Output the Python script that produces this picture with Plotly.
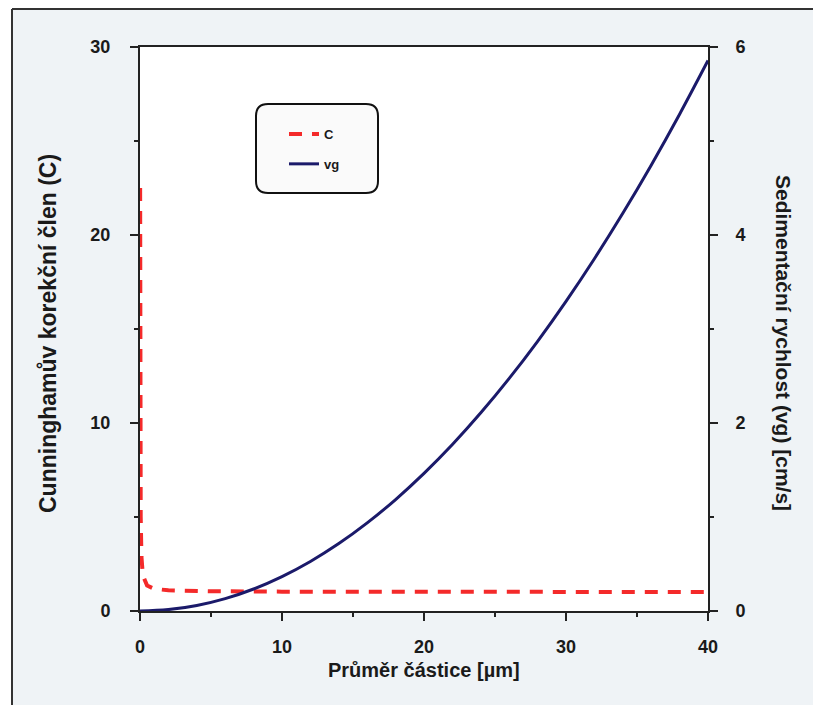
import plotly.graph_objects as go

# ---- data ----
d_c = [0.01, 0.02, 0.05, 0.1, 0.2, 0.5, 1, 2, 5, 10, 20, 30, 40]
c_vals = [22.5, 11.5, 5.0, 2.9, 1.9, 1.35, 1.18, 1.1, 1.05, 1.03, 1.02, 1.01, 1.01]

d_vg = [0, 2, 4, 6, 8, 10, 12, 14, 16, 18, 20, 22, 24, 26, 28, 30, 32, 34, 36, 38, 40]
vg_vals = [0, 0.015, 0.059, 0.132, 0.234, 0.366, 0.527, 0.717, 0.937, 1.186, 1.464,
           1.771, 2.108, 2.474, 2.869, 3.294, 3.748, 4.231, 4.743, 5.285, 5.856]

x_ticks = [0, 10, 20, 30, 40]
y1_ticks = [0, 10, 20, 30]
y2_ticks = [0, 2, 4, 6]

W, H = 813, 705
L, R, T, B = 140, 708, 47, 611

def px(x):
    return (x - L) / (R - L)

def py(y):
    return (B - y) / (B - T)

RED = "#f42a2a"
NAVY = "#1b1a6a"
FONT = "Liberation Sans, Arial, sans-serif"

fig = go.Figure()
fig.add_trace(go.Scatter(x=d_c, y=c_vals, name="C", mode="lines",
                         line=dict(color=RED, width=4, dash="13px,10px"),
                         legendgroup="a", yaxis="y"))
fig.add_trace(go.Scatter(x=d_vg, y=vg_vals, name="vg", mode="lines",
                         line=dict(color=NAVY, width=3, shape="spline"),
                         legendgroup="b", yaxis="y2"))

axis_common = dict(showgrid=False, zeroline=False, showline=True, linecolor="#222",
                   linewidth=2, ticks="outside", ticklen=8, tickwidth=2, tickcolor="#222",
                   tickfont=dict(family=FONT, size=18, color="#1a1a1a", weight="bold"))

fig.update_layout(
    width=W, height=H,
    margin=dict(l=L, r=W - R, t=T, b=H - B),
    paper_bgcolor="#eff3f6",
    plot_bgcolor="white",
    showlegend=True,
    xaxis=dict(range=[0, 40], tickvals=x_ticks, mirror=True,
               minor=dict(dtick=5, ticks="outside", ticklen=4, tickwidth=2, tickcolor="#222"),
               ticklabelstandoff=10, **axis_common),
    yaxis=dict(range=[0, 30], tickvals=y1_ticks,
               minor=dict(dtick=5, ticks="outside", ticklen=4, tickwidth=2, tickcolor="#222"),
               ticklabelstandoff=16, **axis_common),
    yaxis2=dict(range=[0, 6], tickvals=y2_ticks, overlaying="y", side="right",
                minor=dict(dtick=1, ticks="outside", ticklen=4, tickwidth=2, tickcolor="#222"),
                ticklabelstandoff=14, **axis_common),
    legend=dict(x=px(284), y=py(119), xanchor="left", yanchor="top",
                bgcolor="rgba(0,0,0,0)", borderwidth=0,
                font=dict(family=FONT, size=13, color="#1a1a1a", weight="bold"),
                tracegroupgap=10, traceorder="grouped"),
)

# rounded legend box
x0, x1, y0, y1, r = 256, 378, 104, 193, 12
path = (f"M {px(x0 + r)},{py(y0)} L {px(x1 - r)},{py(y0)} Q {px(x1)},{py(y0)} {px(x1)},{py(y0 + r)} "
        f"L {px(x1)},{py(y1 - r)} Q {px(x1)},{py(y1)} {px(x1 - r)},{py(y1)} "
        f"L {px(x0 + r)},{py(y1)} Q {px(x0)},{py(y1)} {px(x0)},{py(y1 - r)} "
        f"L {px(x0)},{py(y0 + r)} Q {px(x0)},{py(y0)} {px(x0 + r)},{py(y0)} Z")
fig.add_shape(type="path", path=path, xref="paper", yref="paper",
              line=dict(color="#111", width=2), fillcolor="#fafafa", layer="below")

# page strips outside the scanned border
fig.add_shape(type="rect", xref="paper", yref="paper", x0=px(0), x1=px(12), y0=py(H), y1=py(0),
              fillcolor="white", line=dict(width=0), layer="above")
fig.add_shape(type="rect", xref="paper", yref="paper", x0=px(0), x1=px(W), y0=py(9), y1=py(0),
              fillcolor="white", line=dict(width=0), layer="above")
fig.add_shape(type="line", xref="paper", yref="paper", x0=px(12), x1=px(W), y0=py(9), y1=py(9),
              line=dict(color="#333", width=2))
fig.add_shape(type="line", xref="paper", yref="paper", x0=px(12), x1=px(12), y0=py(9), y1=py(H),
              line=dict(color="#333", width=2))

fig.add_annotation(text="Průměr částice [µm]", xref="paper", yref="paper",
                   x=px(424), y=py(670), xanchor="center", yanchor="middle", showarrow=False,
                   font=dict(family=FONT, size=20, color="#1a1a1a", weight="bold"))
fig.add_annotation(text="Cunninghamův korekční člen (C)", xref="paper", yref="paper",
                   x=px(48), y=py(334), xanchor="center", yanchor="middle", showarrow=False,
                   textangle=-90,
                   font=dict(family=FONT, size=23, color="#1a1a1a", weight="bold"))
fig.add_annotation(text="Sedimentační rychlost (vg) [cm/s]", xref="paper", yref="paper",
                   x=px(784), y=py(343), xanchor="center", yanchor="middle", showarrow=False,
                   textangle=90,
                   font=dict(family=FONT, size=21, color="#1a1a1a", weight="bold"))

fig.write_html("out.html")
